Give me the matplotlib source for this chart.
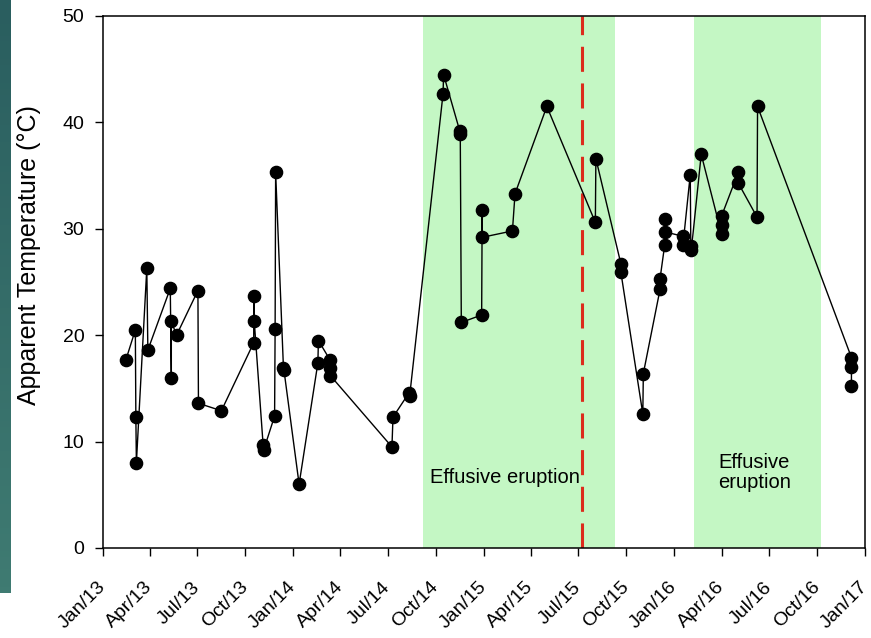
import numpy as np
import pandas as pd
import matplotlib
matplotlib.use("Agg")
import matplotlib.pyplot as plt
import matplotlib.dates as mdates
import matplotlib.transforms as mtransforms

plt.rcParams['font.family'] = ['Liberation Sans', 'DejaVu Sans']

# sampling dates and apparent temperatures (°C), in plotting order
dates = [
    "2013-02-14", "2013-03-04", "2013-03-05", "2013-03-06", "2013-03-26", "2013-03-28",
    "2013-05-10", "2013-05-12", "2013-05-12", "2013-05-22", "2013-07-02", "2013-07-03",
    "2013-08-16", "2013-10-17", "2013-10-17", "2013-10-18", "2013-11-04", "2013-11-05",
    "2013-11-26", "2013-11-27", "2013-11-28", "2013-12-13", "2013-12-14", "2014-01-12",
    "2014-02-17", "2014-02-18", "2014-03-12", "2014-03-13", "2014-03-13", "2014-07-09",
    "2014-07-11", "2014-08-11", "2014-08-12", "2014-10-15", "2014-10-16", "2014-11-16",
    "2014-11-17", "2014-11-19", "2014-12-28", "2014-12-29", "2014-12-29", "2015-02-25",
    "2015-03-02", "2015-05-02", "2015-08-03", "2015-08-04", "2015-09-21", "2015-09-21",
    "2015-11-02", "2015-11-03", "2015-12-05", "2015-12-05", "2015-12-14", "2015-12-14",
    "2015-12-15", "2016-01-18", "2016-01-18", "2016-02-01", "2016-02-02", "2016-02-03",
    "2016-02-22", "2016-04-01", "2016-04-01", "2016-04-01", "2016-05-03", "2016-05-03",
    "2016-06-08", "2016-06-09", "2016-12-06", "2016-12-06", "2016-12-06",
]
temps = [
    17.7, 20.5, 12.3, 8.0, 26.3, 18.6,
    24.4, 16.0, 21.3, 20.0, 24.2, 13.6,
    12.9, 19.3, 23.7, 21.3, 9.7, 9.2,
    12.4, 20.6, 35.3, 16.9, 16.7, 6.0,
    17.4, 19.5, 17.7, 16.9, 16.2, 9.5,
    12.3, 14.6, 14.3, 42.7, 44.5, 39.2,
    38.9, 21.2, 21.9, 31.8, 29.2, 29.8,
    33.3, 41.5, 30.6, 36.6, 26.7, 25.9,
    12.6, 16.4, 24.3, 25.3, 28.5, 30.9,
    29.7, 29.3, 28.5, 35.1, 28.4, 28.0,
    37.0, 29.5, 30.4, 31.2, 35.3, 34.3,
    31.1, 41.5, 17.9, 17.0, 15.2,
]

eruptions = [("2014-09-06", "2015-09-09"), ("2016-02-09", "2016-10-08")]
event_date = "2015-07-09"

fig = plt.figure(figsize=(8.71, 6.38), dpi=100)

# teal strip on the left edge of the slide
strip = fig.add_axes([0, 1 - 593 / 638, 11 / 871, 593 / 638])
grad = np.linspace(0, 1, 100).reshape(-1, 1)
cmap = matplotlib.colors.LinearSegmentedColormap.from_list("teal", ["#2a5e5f", "#3f7b72"])
strip.imshow(grad, aspect="auto", cmap=cmap)
strip.axis("off")

ax = fig.add_axes([103 / 871, 1 - 548 / 638, 762 / 871, 532 / 638])

x = pd.to_datetime(dates)
for start, end in eruptions:
    ax.axvspan(pd.Timestamp(start), pd.Timestamp(end), color="#c4f7c4", lw=0, zorder=0)

ax.axvline(pd.Timestamp(event_date), color="#dc2b1c", lw=2.2, dashes=(8.2, 3.8), zorder=1)

ax.plot(x, temps, color="black", lw=1.0, marker="o", markersize=8.8, zorder=3)

ax.text(pd.Timestamp("2015-02-11"), 6.6, "Effusive eruption", ha="center", va="center", fontsize=14.5)
ax.text(pd.Timestamp("2016-06-03"), 7.1, "Effusive\neruption", ha="center", va="center",
        fontsize=14.5, linespacing=1.05)

ax.set_xlim(pd.Timestamp("2013-01-01"), pd.Timestamp("2017-01-01"))
ax.set_ylim(0, 50)
ax.set_yticks(range(0, 51, 10))
ax.set_xticks(pd.date_range("2013-01-01", "2017-01-01", freq="QS"))
ax.xaxis.set_major_formatter(mdates.DateFormatter("%b/%y"))

ax.tick_params(axis="both", direction="out", length=5.5, width=1.0, labelsize=14)
ax.tick_params(axis="y", pad=8)
ax.tick_params(axis="x", pad=10)
shift = mtransforms.ScaledTranslation(-6 / 100, -9 / 100, fig.dpi_scale_trans)
for lab in ax.get_xticklabels():
    lab.set_rotation(45)
    lab.set_ha("right")
    lab.set_rotation_mode("anchor")
    lab.set_transform(lab.get_transform() + shift)

for sp in ax.spines.values():
    sp.set_linewidth(1.1)

ax.set_ylabel("Apparent Temperature (°C)", fontsize=18)
ax.yaxis.label.set_va("center")
ax.yaxis.set_label_coords(-0.097, 0.55)

fig.savefig("out.png", dpi=100)
